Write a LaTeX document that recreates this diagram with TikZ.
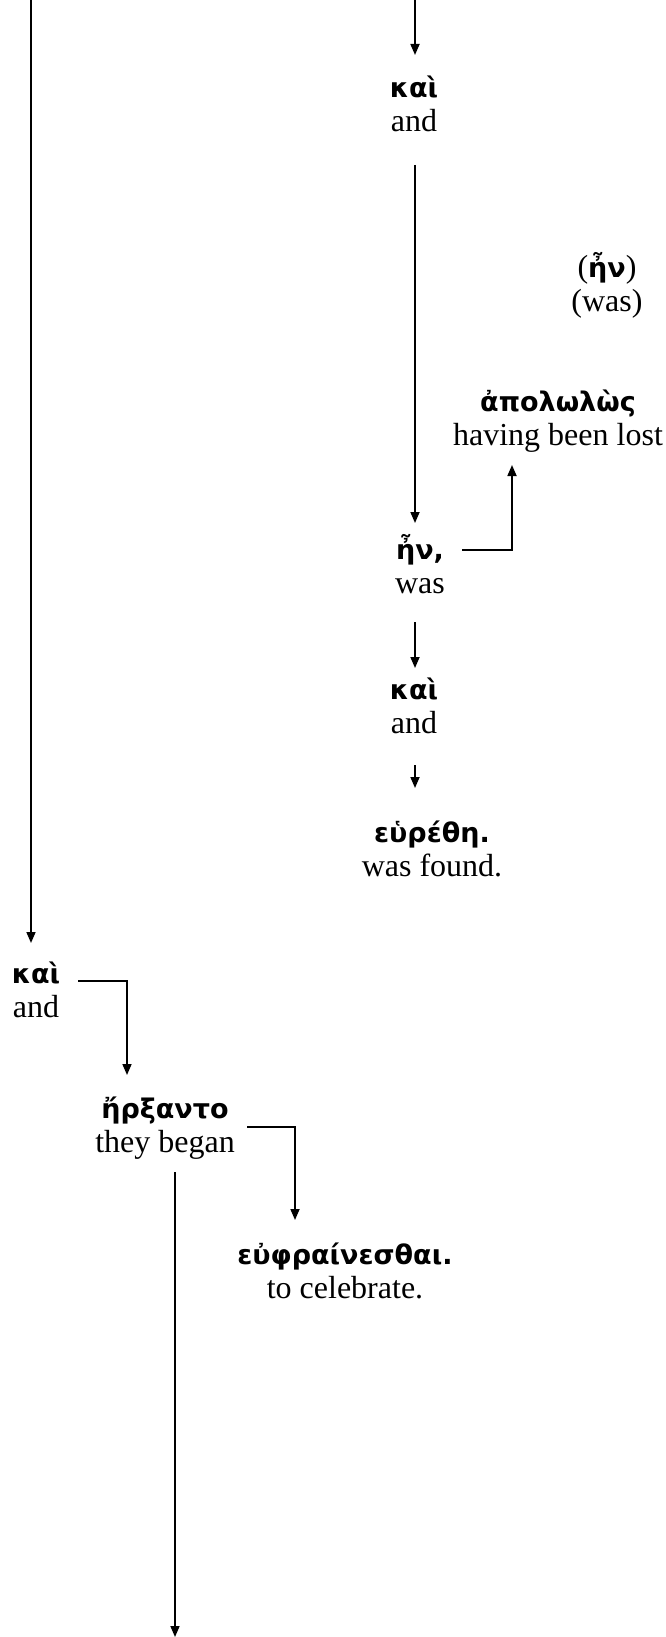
\documentclass[tikz,border=0pt]{standalone}
\usepackage{fontspec}
\setmainfont{Liberation Serif}
\newfontfamily\gkfont{DejaVu Sans}
\usetikzlibrary{arrows.meta,calc}
\newcommand{\grk}[1]{{\gkfont\bfseries\fontsize{13.5}{17}\selectfont #1}}
\begin{document}
\begin{tikzpicture}[x=0.5pt,y=-0.5pt,
  word/.style={align=center, inner sep=0pt, outer sep=0pt, anchor=base,
    font=\fontsize{16}{17}\selectfont},
  arr/.style={-{Triangle[width=4.5pt,length=5.5pt]}, line width=0.85pt}]
\useasboundingbox (0,0) rectangle (665,1637);
\coordinate (topA) at (415,0);
\coordinate (topL) at (31,0);
\coordinate (bot) at (175,1637);

\node[word] (k1)   at (414,132)  {\grk{καὶ}\\and};
\node[word] (par)  at (607,311)  {(\grk{ἦν})\\(was)};
\node[word] (apol) at (558,445)  {\grk{ἀπολωλὼς}\\having been lost};
\node[word] (e1)   at (420,593)  {\grk{ἦν,}\\was};
\node[word] (k2)   at (414,733)  {\grk{καὶ}\\and};
\node[word] (eur)  at (432,876)  {\grk{εὑρέθη.}\\was found.};
\node[word] (k3)   at (36,1017)  {\grk{καὶ}\\and};
\node[word] (erx)  at (165,1152) {\grk{ἤρξαντο}\\they began};
\node[word] (euph) at (345,1298) {\grk{εὐφραίνεσθαι.}\\to celebrate.};

\draw[arr] (topA) -- ($(k1.base -| topA)+(0,-77)$);
\draw[arr] ($(k1.base -| topA)+(0,33)$) -- ($(e1.base -| topA)+(0,-70)$);
\draw[arr] ($(e1.base)+(42,-43)$) -| ($(apol.base)+(-46,20)$);
\draw[arr] ($(e1.base -| topA)+(0,29)$) -- ($(k2.base -| topA)+(0,-65)$);
\draw[arr] ($(k2.base -| topA)+(0,32)$) -- ($(eur.base -| topA)+(0,-88)$);
\draw[arr] (topL) -- ($(k3.base -| topL)+(0,-74)$);
\draw[arr] ($(k3.base)+(42,-36)$) -| ($(erx.base)+(-38,-77)$);
\draw[arr] ($(erx.base)+(82,-25)$) -| ($(euph.base)+(-50,-78)$);
\coordinate (b0) at ($(erx.base)+(10,20)$);
\draw[arr] (b0) -- (b0 |- bot);
\end{tikzpicture}
\end{document}
